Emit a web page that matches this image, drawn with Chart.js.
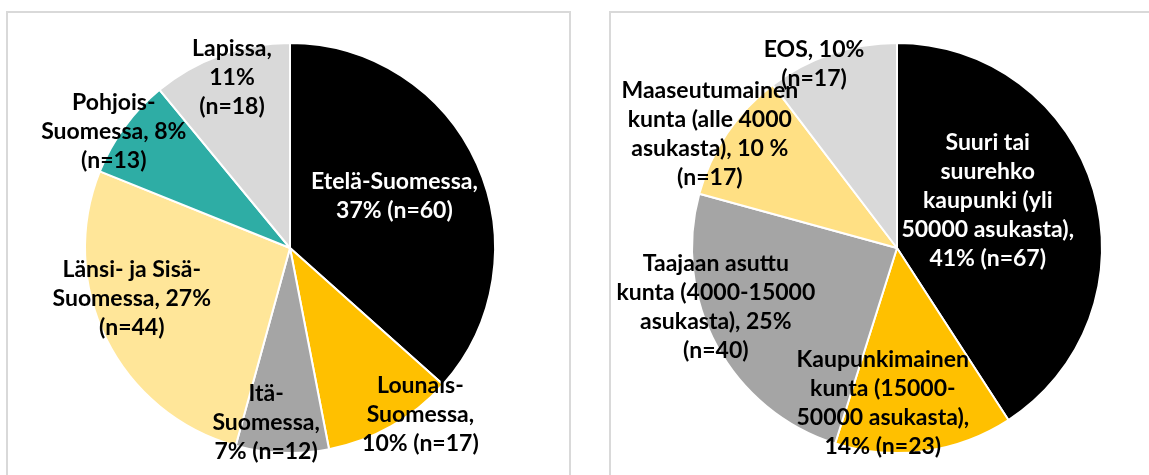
<!DOCTYPE html>
<html>
<head>
<meta charset="utf-8">
<script src="https://cdn.jsdelivr.net/npm/chart.js@4"></script>
<style>
  body { margin: 0; width: 1149px; height: 475px; overflow: hidden; background: #fff; position: relative; }
  .box { position: absolute; border: 2px solid #d9d9d9; background: #fff; }
  #box1 { left: 6px; top: 11px; width: 561px; height: 500px; }
  #box2 { left: 609px; top: 11px; width: 600px; height: 500px; }
  .holder { position: absolute; top: 0; }
  #h1 { left: 0; width: 580px; height: 496px; }
  #h2 { left: 597px; width: 600px; height: 496px; }
</style>
</head>
<body>
<div class="box" id="box1"></div>
<div class="box" id="box2"></div>
<div class="holder" id="h1"><canvas id="alueChart"></canvas></div>
<div class="holder" id="h2"><canvas id="kuntaChart"></canvas></div>

<script>
// vasen kuvio: alueet
const alueet = [
  ["Etelä-Suomessa,", "37% (n=60)"],
  ["Lounais-", "Suomessa,", "10% (n=17)"],
  ["Itä-", "Suomessa,", "7% (n=12)"],
  ["Länsi- ja Sisä-", "Suomessa, 27%", "(n=44)"],
  ["Pohjois-", "Suomessa, 8%", "(n=13)"],
  ["Lapissa,", "11%", "(n=18)"]
];
const alueMaarat = [60, 17, 12, 44, 13, 18];
const alueVarit = ["#000000", "#ffc000", "#a5a5a5", "#ffe699", "#2eada5", "#d9d9d9"];

// oikea kuvio: kuntatyypit
const kunnat = [
  ["Suuri tai", "suurehko", "kaupunki (yli", "50000 asukasta),", "41% (n=67)"],
  ["Kaupunkimainen", "kunta (15000-", "50000 asukasta),", "14% (n=23)"],
  ["Taajaan asuttu", "kunta (4000-15000", "asukasta), 25%", "(n=40)"],
  ["Maaseutumainen", "kunta (alle 4000", "asukasta), 10 %", "(n=17)"],
  ["EOS, 10%", "(n=17)"]
];
const kuntaMaarat = [67, 23, 40, 17, 17];
const kuntaVarit = ["#000000", "#ffc000", "#a5a5a5", "#ffe084", "#d9d9d9"];

// labelien paikka: [osuus sateesta, kulman siirto asteina]
const alueLabelPos = [[0.57, -2.5], [1.03, -8.5], [0.86, 5.6], [0.81, 8.7], [1.03, -2.8], [0.88, 1]];
const kuntaLabelPos = [[0.50, -11.3], [0.76, 12.9], [0.93, 10.4], [1.07, -2.6], [0.985, -5.6]];

const labelPlugin = {
  id: "sliceLabels",
  afterDatasetsDraw(chart, args, opts) {
    const ctx = chart.ctx;
    const arcs = chart.getDatasetMeta(0).data;
    ctx.save();
    ctx.font = "bold 23px Lato";
    ctx.textAlign = "center";
    ctx.textBaseline = "middle";
    arcs.forEach((arc, i) => {
      const p = arc.getProps(["x", "y", "startAngle", "endAngle", "outerRadius"], true);
      const pos = opts.pos[i];
      const ang = (p.startAngle + p.endAngle) / 2 + pos[1] * Math.PI / 180;
      const cx = p.x + Math.cos(ang) * p.outerRadius * pos[0];
      const cy = p.y + Math.sin(ang) * p.outerRadius * pos[0];
      const lines = chart.data.labels[i];
      const lh = 29;
      ctx.fillStyle = i === 0 ? "#ffffff" : "#000000";
      lines.forEach((t, j) => {
        ctx.fillText(t, cx, cy + (j - (lines.length - 1) / 2) * lh);
      });
    });
    ctx.restore();
  }
};

function teePiirakka(id, labels, values, colors, pos) {
  return new Chart(document.getElementById(id), {
    type: "pie",
    data: {
      labels: labels,
      datasets: [{
        data: values,
        backgroundColor: colors,
        borderColor: "#ffffff",
        borderWidth: 2,
        radius: 205
      }]
    },
    options: {
      responsive: true,
      maintainAspectRatio: false,
      animation: false,
      layout: { padding: 0 },
      plugins: {
        legend: { display: false },
        tooltip: { enabled: false },
        sliceLabels: { pos: pos }
      }
    },
    plugins: [labelPlugin]
  });
}

teePiirakka("alueChart", alueet, alueMaarat, alueVarit, alueLabelPos);
teePiirakka("kuntaChart", kunnat, kuntaMaarat, kuntaVarit, kuntaLabelPos);
</script>
</body>
</html>
